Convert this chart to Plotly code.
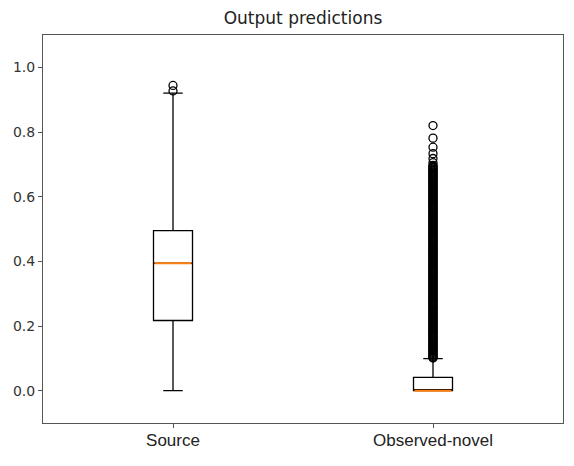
import plotly.graph_objects as go

categories = ["Source", "Observed-novel"]
positions = [1, 2]
q1 = [0.217, 0.0]
median = [0.394, 0.0]
q3 = [0.495, 0.041]
lower_whisker = [0.0, 0.0]
upper_whisker = [0.920, 0.099]

source_outliers = [0.927, 0.944]
novel_outliers = [
    0.820, 0.781, 0.753, 0.733, 0.718, 0.705,
    0.697, 0.694, 0.691, 0.688, 0.685, 0.682, 0.679, 0.676, 0.673, 0.670,
    0.667, 0.664, 0.661, 0.658, 0.655, 0.652, 0.649, 0.646, 0.643, 0.640,
    0.637, 0.634, 0.631, 0.628, 0.625, 0.622, 0.619, 0.616, 0.613, 0.610,
    0.607, 0.604, 0.601, 0.598, 0.595, 0.592, 0.589, 0.586, 0.583, 0.580,
    0.577, 0.574, 0.571, 0.568, 0.565, 0.562, 0.559, 0.556, 0.553, 0.550,
    0.547, 0.544, 0.541, 0.538, 0.535, 0.532, 0.529, 0.526, 0.523, 0.520,
    0.517, 0.514, 0.511, 0.508, 0.505, 0.502, 0.499, 0.496, 0.493, 0.490,
    0.487, 0.484, 0.481, 0.478, 0.475, 0.472, 0.469, 0.466, 0.463, 0.460,
    0.457, 0.454, 0.451, 0.448, 0.445, 0.442, 0.439, 0.436, 0.433, 0.430,
    0.427, 0.424, 0.421, 0.418, 0.415, 0.412, 0.409, 0.406, 0.403, 0.400,
    0.397, 0.394, 0.391, 0.388, 0.385, 0.382, 0.379, 0.376, 0.373, 0.370,
    0.367, 0.364, 0.361, 0.358, 0.355, 0.352, 0.349, 0.346, 0.343, 0.340,
    0.337, 0.334, 0.331, 0.328, 0.325, 0.322, 0.319, 0.316, 0.313, 0.310,
    0.307, 0.304, 0.301, 0.298, 0.295, 0.292, 0.289, 0.286, 0.283, 0.280,
    0.277, 0.274, 0.271, 0.268, 0.265, 0.262, 0.259, 0.256, 0.253, 0.250,
    0.247, 0.244, 0.241, 0.238, 0.235, 0.232, 0.229, 0.226, 0.223, 0.220,
    0.217, 0.214, 0.211, 0.208, 0.205, 0.202, 0.199, 0.196, 0.193, 0.190,
    0.187, 0.184, 0.181, 0.178, 0.175, 0.172, 0.169, 0.166, 0.163, 0.160,
    0.157, 0.154, 0.151, 0.148, 0.145, 0.142, 0.139, 0.136, 0.133, 0.130,
    0.127, 0.124, 0.121, 0.118, 0.115, 0.112, 0.109, 0.106, 0.103, 0.101,
]
outliers = [source_outliers, novel_outliers]

box_width = 0.15

fig = go.Figure()
for i, pos in enumerate(positions):
    fig.add_trace(go.Box(
        x=[pos], q1=[q1[i]], median=[median[i]], q3=[q3[i]],
        lowerfence=[lower_whisker[i]], upperfence=[upper_whisker[i]],
        width=box_width, whiskerwidth=0.5,
        line=dict(color="black", width=1.3),
        fillcolor="rgba(0,0,0,0)", boxpoints=False,
        showlegend=False, hoverinfo="skip",
    ))
    fig.add_trace(go.Scatter(
        x=[pos] * len(outliers[i]), y=outliers[i],
        mode="markers",
        marker=dict(symbol="circle-open", size=8, color="black",
                    line=dict(width=1.3, color="black")),
        showlegend=False,
    ))
    fig.add_trace(go.Scatter(
        x=[pos - box_width / 2 + 0.004, pos + box_width / 2 - 0.004],
        y=[median[i], median[i]],
        mode="lines", line=dict(color="#ff7f0e", width=2),
        showlegend=False, hoverinfo="skip",
    ))

# The page body adds an 8px margin around the figure.
W, H = 558, 450
fig.update_layout(
    width=W, height=H,
    margin=dict(l=35, r=3, t=27, b=35),
    paper_bgcolor="white", plot_bgcolor="white",
    title=dict(text="Output predictions", x=295 / W,
               xanchor="center", y=1 - 10 / H, yanchor="middle",
               font=dict(family="DejaVu Sans", size=17, color="#222")),
    font=dict(family="DejaVu Sans", size=14, color="#333"),
)
fig.update_xaxes(
    range=[0.5, 2.5], tickvals=positions, ticktext=categories,
    showline=True, mirror=True, linecolor="#555", linewidth=1,
    ticks="outside", ticklen=4, tickcolor="#555",
    showgrid=False, zeroline=False, automargin=False,
    ticklabelstandoff=-2,
    tickfont=dict(family="Liberation Sans", size=17, color="#222"),
)
fig.update_yaxes(
    range=[-0.1, 1.1], tickvals=[0.0, 0.2, 0.4, 0.6, 0.8, 1.0],
    ticktext=["0.0", "0.2", "0.4", "0.6", "0.8", "1.0"],
    showline=True, mirror=True, linecolor="#555", linewidth=1,
    ticks="outside", ticklen=4, tickcolor="#555",
    showgrid=False, zeroline=False, automargin=False,
    tickfont=dict(family="DejaVu Sans", size=14, color="#333"),
)

fig.write_html("out.html")
